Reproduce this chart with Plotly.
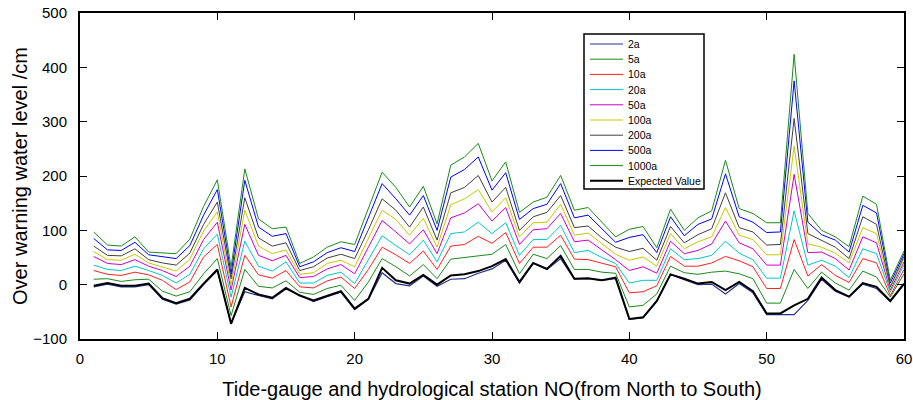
import plotly.graph_objects as go

stations = list(range(1, 61))

s2a = [-4, 1, -4, -4, 0, -27, -36, -28, 0, 26, -71, -13, -20, -26, -8, -20, -31, -22, -14, -46,
       -27, 22, 2, -2, 16, -3, 10, 11, 21, 29, 45, 3, 39, 28, 48, 10, 11, 8, 11, -64,
       -61, -31, 19, 9, 0, 1, -17, 2, -15, -55, -55, -55, -29, 10, -12, -23, 1, -7, -31, 0]
s5a = [10, 11, 6, 9, 10, -12, -21, -13, 20, 48, -57, 28, -3, -6, 7, -14, -18, -7, -1, -29,
       5, 48, 33, 16, 37, 11, 47, 50, 52, 56, 74, 20, 56, 48, 72, 28, 28, 23, 21, -41,
       -38, -17, 34, 22, 19, 23, 25, 20, 11, -34, -34, 28, -7, 23, 3, -10, 25, 14, -23, 20]
s10a = [26, 19, 17, 23, 18, 8, -9, 5, 51, 74, -41, 54, 18, 12, 26, -4, -6, 7, 14, -7,
        28, 69, 55, 39, 62, 28, 71, 74, 89, 76, 96, 39, 69, 69, 91, 47, 46, 39, 33, -15,
        -13, -2, 52, 34, 34, 40, 52, 44, 33, -7, -7, 83, 16, 37, 17, 4, 48, 40, -20, 28]
s20a = [36, 28, 26, 34, 26, 17, 3, 19, 66, 93, -23, 80, 34, 25, 42, 3, 3, 17, 23, 2,
        46, 90, 72, 55, 82, 42, 94, 97, 115, 94, 114, 54, 83, 83, 109, 59, 63, 50, 39, 3,
        8, 8, 66, 46, 48, 54, 80, 58, 46, 12, 12, 136, 36, 45, 34, 13, 66, 57, -14, 36]
s50a = [52, 39, 37, 46, 34, 26, 15, 34, 83, 115, -10, 111, 54, 44, 54, 13, 15, 29, 37, 20,
        69, 118, 97, 75, 101, 57, 123, 132, 149, 117, 142, 74, 101, 103, 131, 79, 82, 64, 46, 26,
        33, 21, 80, 57, 63, 75, 117, 77, 66, 36, 36, 203, 59, 60, 48, 27, 88, 77, -10, 42]
s100a = [61, 46, 45, 56, 40, 33, 25, 47, 99, 134, -1, 137, 71, 57, 64, 19, 22, 39, 45, 33,
         85, 137, 120, 91, 122, 69, 147, 158, 175, 134, 160, 88, 114, 115, 148, 91, 95, 75, 56, 45,
         51, 34, 94, 66, 79, 88, 142, 91, 83, 55, 55, 255, 75, 69, 58, 40, 105, 94, -7, 48]
s200a = [71, 54, 53, 66, 46, 40, 36, 58, 111, 152, 11, 160, 86, 71, 77, 26, 33, 49, 56, 48,
         101, 158, 137, 106, 143, 82, 169, 179, 201, 152, 179, 100, 125, 133, 164, 105, 108, 86, 69, 61,
         67, 45, 107, 77, 92, 103, 169, 105, 97, 73, 74, 306, 94, 82, 69, 48, 125, 111, -4, 52]
s500a = [85, 64, 63, 78, 55, 51, 48, 72, 128, 175, 20, 192, 106, 89, 94, 33, 42, 59, 68, 61,
         124, 186, 158, 128, 164, 100, 198, 212, 235, 174, 206, 120, 140, 148, 186, 123, 128, 103, 78, 87,
         92, 59, 125, 90, 111, 121, 204, 125, 115, 96, 97, 375, 115, 92, 82, 60, 146, 132, 3, 57]
s1000a = [97, 73, 71, 88, 60, 59, 57, 84, 144, 193, 32, 213, 121, 103, 106, 39, 51, 69, 79, 74,
          140, 207, 179, 143, 181, 112, 220, 235, 260, 191, 226, 133, 152, 161, 201, 137, 142, 115, 88, 102,
          107, 68, 139, 100, 123, 136, 229, 140, 131, 114, 114, 424, 131, 100, 88, 70, 163, 148, 8, 62]
expected = [-2, 3, -2, -2, 2, -25, -34, -26, 2, 28, -72, -6, -18, -24, -6, -20, -29, -20, -12, -44,
            -26, 31, 8, 2, 18, 0, 17, 19, 25, 34, 47, 5, 40, 29, 53, 11, 12, 8, 13, -63,
            -60, -30, 19, 11, 2, 5, -10, 5, -12, -53, -53, -38, -26, 13, -10, -22, 3, -4, -30, 2]

series_names = ["2a", "5a", "10a", "20a", "50a", "100a", "200a", "500a", "1000a", "Expected Value"]
series_values = [s2a, s5a, s10a, s20a, s50a, s100a, s200a, s500a, s1000a, expected]
series_colors = ["#26338C", "#1A8A1A", "#FF2020", "#00C8C8", "#CC00CC", "#C8C800",
                 "#404040", "#0000FF", "#1A8A1A", "#000000"]
series_widths = [1.2, 1, 1, 1, 1, 1, 1, 1, 1, 2]

W, H = 913, 400
ML, MR, MT, MB = 80, 9, 13, 61
PW, PH = W - ML - MR, H - MT - MB


def px_x(px):  # figure pixel -> paper coordinate
    return (px - ML) / PW


def px_y(py):
    return 1 - (py - MT) / PH


fig = go.Figure()
for name, vals, col, w in zip(series_names, series_values, series_colors, series_widths):
    fig.add_trace(go.Scatter(x=stations, y=vals, mode="lines", name=name,
                             line=dict(color=col, width=w), showlegend=False))

# manual legend (MATLAB-style compact box)
shapes = [dict(type="rect", xref="paper", yref="paper",
               x0=px_x(584), x1=px_x(704), y0=px_y(189), y1=px_y(34),
               line=dict(color="black", width=1.5), fillcolor="white", layer="above")]
annotations = []
for k, (name, col, w) in enumerate(zip(series_names, series_colors, series_widths)):
    yc = 44 + k * 15.2
    shapes.append(dict(type="line", xref="paper", yref="paper",
                       x0=px_x(590), x1=px_x(623), y0=px_y(yc), y1=px_y(yc),
                       line=dict(color=col, width=w), layer="above"))
    annotations.append(dict(xref="paper", yref="paper", x=px_x(626), y=px_y(yc),
                            text=name, showarrow=False, xanchor="left", yanchor="middle",
                            font=dict(size=10.5, color="black")))

axis_common = dict(showline=True, linecolor="black", linewidth=2, mirror="ticks",
                   ticks="inside", ticklen=7, tickcolor="black", tickwidth=1, showgrid=False,
                   zeroline=False, tickfont=dict(size=15, color="black"), automargin=False,
                   ticklabeloverflow="allow")

fig.update_layout(
    width=W, height=H,
    margin=dict(l=ML, r=MR, t=MT, b=MB, autoexpand=False),
    paper_bgcolor="white", plot_bgcolor="white",
    font=dict(family="Liberation Sans, Arial, sans-serif", color="black"),
    xaxis=dict(range=[0, 60], dtick=10, tick0=0, ticklabelstandoff=5,
               title=dict(text="Tide-gauge and hydrological station NO(from North to South)",
                          font=dict(size=20), standoff=16),
               **axis_common),
    yaxis=dict(range=[-100, 500], dtick=100, tick0=-100, ticklabelstandoff=8,
               title=dict(text="Over warning water level /cm", font=dict(size=20), standoff=0),
               **axis_common),
    shapes=shapes,
    annotations=annotations,
    showlegend=False,
    hovermode=False,
)

fig.write_html("out.html",
               config={"displayModeBar": False},
               post_script="document.body.style.margin='0';"
                           "document.documentElement.style.overflow='hidden';")
